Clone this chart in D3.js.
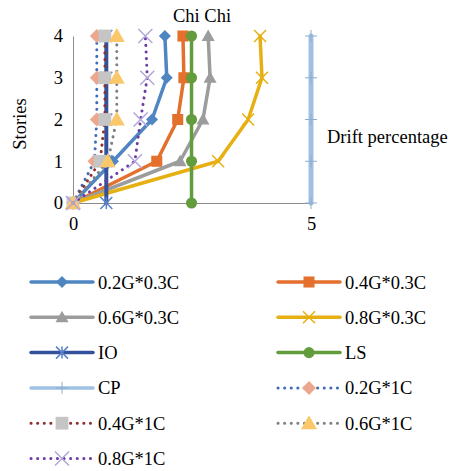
<!DOCTYPE html>
<html><head><meta charset="utf-8">
<script src="https://cdn.jsdelivr.net/npm/d3@7"></script>
<style>
html,body{margin:0;padding:0;background:#fff;}
svg text{font-family:"Times New Roman","Liberation Serif","DejaVu Serif",serif !important;fill:#000;}
</style></head>
<body><svg id="c" width="457" height="471"></svg>
<script>
// ---- data ----
const title = "Chi Chi";
const xLabel = "Drift percentage";
const yLabel = "Stories";
const stories = [0, 1, 2, 3, 4];
const xTicks = [0, 5];
const yTicks = [0, 1, 2, 3, 4];
const seriesNames = ["0.2G*0.3C","0.4G*0.3C","0.6G*0.3C","0.8G*0.3C","IO","LS","CP","0.2G*1C","0.4G*1C","0.6G*1C","0.8G*1C"];
const v_02G03C = [0, 0.84, 1.66, 1.97, 1.93];
const v_04G03C = [0, 1.76, 2.20, 2.33, 2.31];
const v_06G03C = [0, 2.25, 2.73, 2.88, 2.84];
const v_08G03C = [0, 3.05, 3.68, 3.97, 3.93];
const v_IO     = [0.7, 0.7, 0.7, 0.7, 0.7];
const v_LS     = [2.49, 2.49, 2.49, 2.49, 2.49];
const v_CP     = [5, 5, 5, 5, 5];
const v_02G1C  = [0, 0.45, 0.50, 0.50, 0.50];
const v_04G1C  = [0, 0.57, 0.67, 0.67, 0.67];
const v_06G1C  = [0, 0.73, 0.92, 0.92, 0.92];
const v_08G1C  = [0, 1.30, 1.42, 1.56, 1.52];
const seriesValues = [v_02G03C,v_04G03C,v_06G03C,v_08G03C,v_IO,v_LS,v_CP,v_02G1C,v_04G1C,v_06G1C,v_08G1C];

// ---- styles ----
const FONT = '"Times New Roman","Liberation Serif","DejaVu Serif",serif';
const FS = 18.5;
const styles = [
  {line:"#4f86c2", marker:"diamond", mfill:"#4f86c2", w:3.5, dotted:false, ms:6},
  {line:"#e3702c", marker:"square",  mfill:"#e3702c", w:3.5, dotted:false, ms:6.5},
  {line:"#9c9c9c", marker:"triangle",mfill:"#9c9c9c", w:3.5, dotted:false, ms:6.5},
  {line:"#e6b012", marker:"x",       mfill:"#e6b012", w:3.5, dotted:false, ms:6},
  {line:"#34529c", marker:"star",    mfill:"#5a82c8", w:4,   dotted:false, ms:6},
  {line:"#629c3d", marker:"circle",  mfill:"#629c3d", w:3.5, dotted:false, ms:6.5},
  {line:"#9fc1e4", marker:"plus",    mfill:"#9fc1e4", w:5,   dotted:false, ms:6},
  {line:"#3f6db3", marker:"diamond", mfill:"#eca88e", w:3,   dotted:true,  ms:7},
  {line:"#8c2f2f", marker:"square",  mfill:"#c5c5c5", w:3,   dotted:true,  ms:7.5},
  {line:"#808080", marker:"triangle",mfill:"#fbc76b", w:3,   dotted:true,  ms:8},
  {line:"#6b3ea3", marker:"x",       mfill:"#b2a6da", w:3,   dotted:true,  ms:7}
];

const svg = d3.select("#c").attr("font-family", FONT);
const x = d3.scaleLinear().domain([0, 5]).range([73, 311]);
const y = d3.scaleLinear().domain([0, 4]).range([203, 36]);

function drawMarker(g, type, cx, cy, r, fill) {
  if (type === "diamond") {
    g.append("path").attr("d", `M${cx},${cy-r}L${cx+r},${cy}L${cx},${cy+r}L${cx-r},${cy}Z`).attr("fill", fill);
  } else if (type === "square") {
    const s = r*0.85;
    g.append("rect").attr("x", cx-s).attr("y", cy-s).attr("width", 2*s).attr("height", 2*s).attr("fill", fill);
  } else if (type === "triangle") {
    g.append("path").attr("d", `M${cx},${cy-r}L${cx+r},${cy+r*0.75}L${cx-r},${cy+r*0.75}Z`).attr("fill", fill);
  } else if (type === "circle") {
    g.append("circle").attr("cx", cx).attr("cy", cy).attr("r", r*0.85).attr("fill", fill);
  } else if (type === "x") {
    g.append("path").attr("d", `M${cx-r},${cy-r}L${cx+r},${cy+r}M${cx-r},${cy+r}L${cx+r},${cy-r}`)
      .attr("stroke", fill).attr("stroke-width", 1.5).attr("fill", "none");
  } else if (type === "star") {
    g.append("path").attr("d", `M${cx-r},${cy-r}L${cx+r},${cy+r}M${cx-r},${cy+r}L${cx+r},${cy-r}M${cx},${cy-r}L${cx},${cy+r}`)
      .attr("stroke", fill).attr("stroke-width", 1.5).attr("fill", "none");
  } else if (type === "plus") {
    g.append("path").attr("d", `M${cx-r},${cy}L${cx+r},${cy}M${cx},${cy-r}L${cx},${cy+r}`)
      .attr("stroke", d3.color(fill).darker(0.3)).attr("stroke-width", 1).attr("fill", "none");
  }
}

// axes
const fmt = d3.format("d");
const yAxis = svg.append("g").attr("transform", `translate(${x(0)},0)`)
  .call(d3.axisLeft(y).tickValues(yTicks).tickFormat(fmt).tickSize(0).tickSizeOuter(0).tickPadding(10));
const xAxis = svg.append("g").attr("transform", `translate(0,${y(0)})`)
  .call(d3.axisBottom(x).tickValues(xTicks).tickFormat(fmt).tickSize(0).tickSizeOuter(0).tickPadding(14));
[yAxis, xAxis].forEach(a => {
  a.attr("font-family", FONT).attr("font-size", FS);
  a.select(".domain").attr("stroke", "#8c8c8c").attr("stroke-width", 1);
  a.selectAll("text").attr("fill", "#000");
});

// series
const line = d3.line().x(d => x(d[0])).y(d => y(d[1]));
seriesValues.forEach((vals, i) => {
  const st = styles[i];
  const pts = vals.map((v, j) => [v, stories[j]]);
  const g = svg.append("g");
  const p = g.append("path").attr("d", line(pts)).attr("fill", "none")
    .attr("stroke", st.line).attr("stroke-width", st.w).attr("stroke-linejoin", "round").attr("stroke-linecap", "round");
  if (st.dotted) p.attr("stroke-dasharray", "0.1 6.5");
  pts.forEach(d => drawMarker(g, st.marker, x(d[0]), y(d[1]), st.ms, st.mfill));
});

// titles
svg.append("text").attr("x", 202).attr("y", 22).attr("text-anchor", "middle").attr("font-size", FS).text(title);
svg.append("text").attr("transform", "translate(26,124) rotate(-90)").attr("text-anchor", "middle").attr("font-size", FS).text(yLabel);
svg.append("text").attr("x", 327).attr("y", 143).attr("font-size", FS).text(xLabel);

// legend
const colX = [31, 278];
const rowY0 = 282, rowDy = 35.3;
seriesNames.forEach((name, i) => {
  const st = styles[i];
  const cx = colX[i % 2], cy = rowY0 + Math.floor(i / 2) * rowDy;
  const g = svg.append("g");
  const p = g.append("line").attr("x1", cx).attr("x2", cx + 62).attr("y1", cy).attr("y2", cy)
    .attr("stroke", st.line).attr("stroke-width", st.dotted ? 3 : 3.5).attr("stroke-linecap", "round");
  if (st.dotted) p.attr("stroke-dasharray", "0.1 6.5");
  drawMarker(g, st.marker, cx + 31, cy, st.ms, st.mfill);
  g.append("text").attr("x", cx + 67).attr("y", cy + 6.5).attr("font-size", FS).text(name);
});
</script></body></html>
